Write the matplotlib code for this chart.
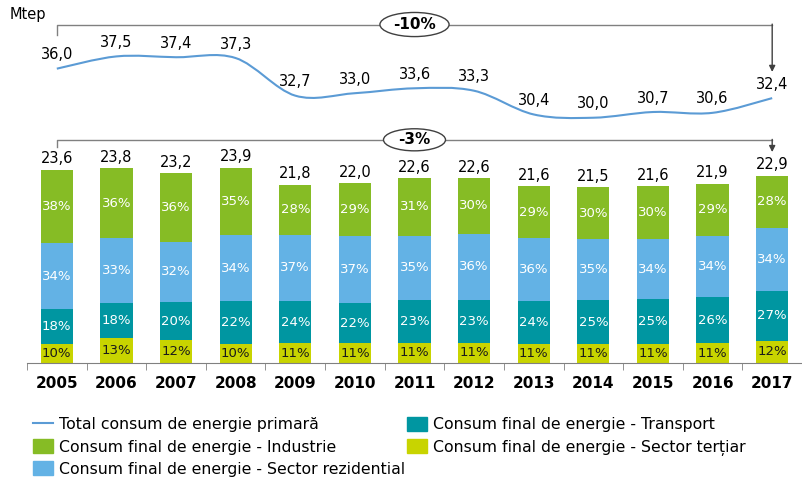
import numpy as np
import matplotlib
matplotlib.use("Agg")
import matplotlib.pyplot as plt
from matplotlib.path import Path
from matplotlib.patches import PathPatch, Ellipse, Patch
from matplotlib.lines import Line2D

years = ["2005", "2006", "2007", "2008", "2009", "2010", "2011",
         "2012", "2013", "2014", "2015", "2016", "2017"]
primary_total = [36.0, 37.5, 37.4, 37.3, 32.7, 33.0, 33.6, 33.3, 30.4, 30.0, 30.7, 30.6, 32.4]
final_total = [23.6, 23.8, 23.2, 23.9, 21.8, 22.0, 22.6, 22.6, 21.6, 21.5, 21.6, 21.9, 22.9]
pct_tertiar = [10, 13, 12, 10, 11, 11, 11, 11, 11, 11, 11, 11, 12]
pct_transport = [18, 18, 20, 22, 24, 22, 23, 23, 24, 25, 25, 26, 27]
pct_rezidential = [34, 33, 32, 34, 37, 37, 35, 36, 36, 35, 34, 34, 34]
pct_industrie = [38, 36, 36, 35, 28, 29, 31, 30, 29, 30, 30, 29, 28]

c_line = "#5b9bd5"
c_ind = "#86bc25"
c_rez = "#63b2e5"
c_tra = "#0096a1"
c_ter = "#c8d400"

fig = plt.figure(figsize=(8.02, 4.79), dpi=100)
ax = fig.add_axes([27 / 802, 1 - 363 / 479, 775 / 802, 363 / 479])

x = np.arange(len(years))
tot = np.array(final_total)
parts = [np.array(p, dtype=float) for p in (pct_tertiar, pct_transport, pct_rezidential, pct_industrie)]
psum = sum(parts)
colors = [c_ter, c_tra, c_rez, c_ind]
txt_colors = ["#1a1a1a", "white", "white", "white"]
pcts = [pct_tertiar, pct_transport, pct_rezidential, pct_industrie]

bottom = np.zeros(len(x))
for p, col, tc, lab in zip(parts, colors, txt_colors, pcts):
    h = tot * p / psum
    ax.bar(x, h, bottom=bottom, width=0.54, color=col, linewidth=0)
    for i in range(len(x)):
        ax.text(x[i], bottom[i] + h[i] / 2, f"{lab[i]}%", ha="center", va="center",
                color=tc, fontsize=9.5)
    bottom = bottom + h

for i in range(len(x)):
    ax.annotate(f"{final_total[i]:.1f}".replace(".", ","), (x[i], tot[i]),
                xytext=(0, 8), textcoords="offset points", ha="center", va="center",
                fontsize=10.5)

# smoothed line (bezier through the points)
y = np.array(primary_total)
pts = np.column_stack([x, y])
verts = [pts[0]]
codes = [Path.MOVETO]
n = len(pts)
for i in range(n - 1):
    p0 = pts[max(i - 1, 0)]
    p1 = pts[i]
    p2 = pts[i + 1]
    p3 = pts[min(i + 2, n - 1)]
    verts += [p1 + (p2 - p0) / 6, p2 - (p3 - p1) / 6, p2]
    codes += [Path.CURVE4] * 3
ax.add_patch(PathPatch(Path(verts, codes), fill=False, edgecolor=c_line, lw=1.5))

for i in range(n):
    ax.annotate(f"{primary_total[i]:.1f}".replace(".", ","), (x[i], y[i]),
                xytext=(0, 10), textcoords="offset points", ha="center", va="center",
                fontsize=10.5)

# brackets with change labels
def bracket(yl, ytick, ytip, label, w, h):
    ax.plot([0, 0, 12], [ytick, yl, yl], color="#808080", lw=1)
    ax.annotate("", xy=(12, ytip), xytext=(12, yl + 0.05),
                arrowprops=dict(arrowstyle="-|>", color="#404040", lw=1, mutation_scale=9,
                                shrinkA=0, shrinkB=0))
    ax.add_patch(Ellipse((6.0, yl), w, h, facecolor="white", edgecolor="#404040", lw=1, zorder=3))
    ax.text(6.0, yl, label, ha="center", va="center", fontsize=11, fontweight="bold", zorder=4)

bracket(41.4, 40.1, 35.6, "-10%", 1.16, 2.95)
bracket(27.3, 26.4, 25.8, "-3%", 1.04, 2.7)

ax.set_xlim(-0.5, 12.5)
ax.set_ylim(0, 44.4)
for s in ("top", "right", "left"):
    ax.spines[s].set_visible(False)
ax.spines["bottom"].set_color("#808080")
ax.set_yticks([])
ax.set_xticks(x)
ax.set_xticklabels(years, fontsize=11, fontweight="bold")
ax.tick_params(axis="x", which="major", length=0, pad=9)
ax.set_xticks(np.arange(-0.5, 12.5, 1.0), minor=True)
ax.tick_params(axis="x", which="minor", length=5, color="#808080", direction="out")

fig.text(10 / 802, 1 - 15 / 479, "Mtep", fontsize=10.5, va="center")

h1 = [Line2D([], [], color=c_line, lw=1.5),
      Patch(color=c_ind), Patch(color=c_rez)]
l1 = ["Total consum de energie primară", "Consum final de energie - Industrie",
      "Consum final de energie - Sector rezidential"]
h2 = [Patch(color=c_tra), Patch(color=c_ter)]
l2 = ["Consum final de energie - Transport", "Consum final de energie - Sector terțiar"]
kw = dict(loc="upper left", frameon=False, fontsize=11.3, borderpad=0, borderaxespad=0,
          handlelength=1.25, handleheight=1.0, handletextpad=0.4, labelspacing=0.43)
fig.legend(h1, l1, bbox_to_anchor=(33 / 802, 1 - 417 / 479), **kw)
fig.legend(h2, l2, bbox_to_anchor=(407 / 802, 1 - 417 / 479), **kw)

fig.savefig("out.png", dpi=100)
